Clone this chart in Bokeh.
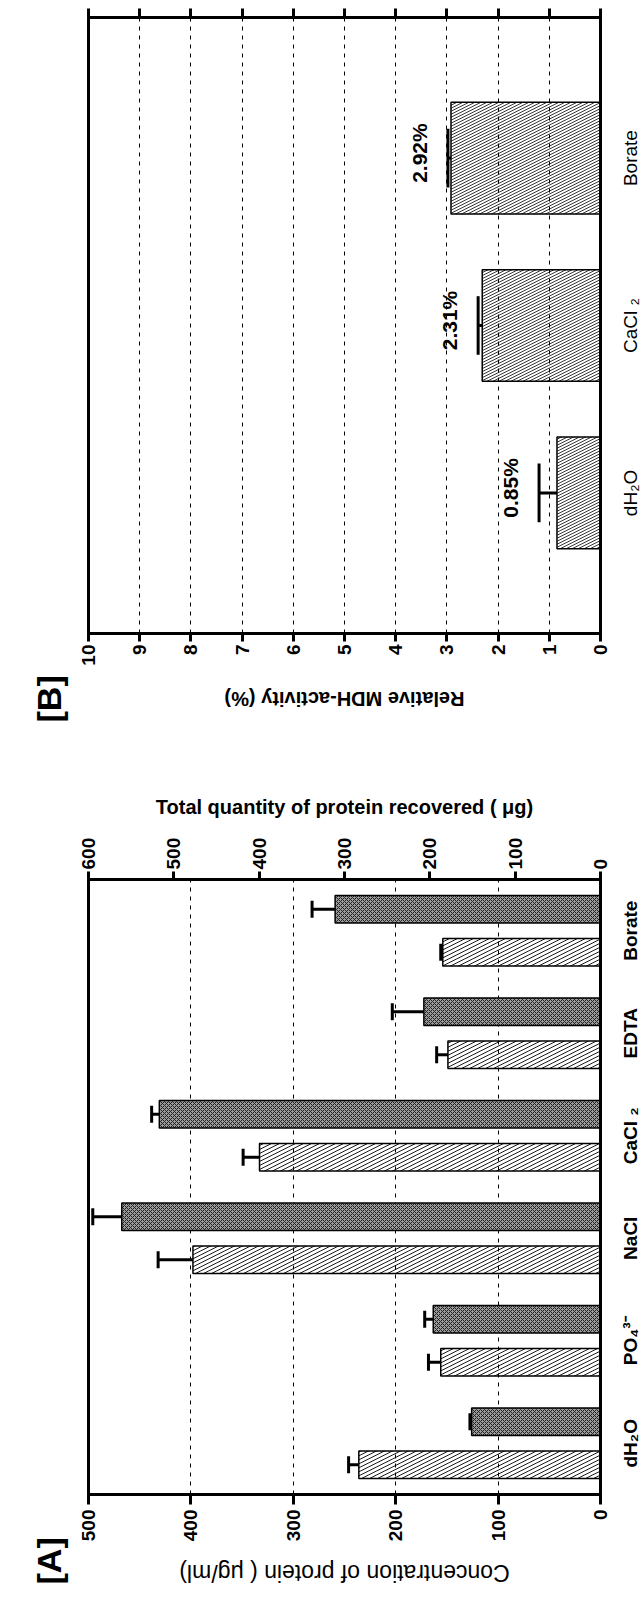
from bokeh.plotting import figure
from bokeh.models import (Range1d, FactorRange, LinearAxis, ColumnDataSource, Title,
                          SingleIntervalTicker, CustomJS)
from bokeh.transform import dodge
from bokeh.layouts import row
from bokeh.io import curdoc
from bokeh.embed import file_html
from bokeh.resources import INLINE
from bokeh.core.properties import value

# ---------------- data ----------------
# Panel [A]
buffers_a = ["dH₂O", "PO₄³⁻", "NaCl", "CaCl ₂", "EDTA", "Borate"]
conc = [236, 156, 398, 333, 149, 154]          # µg/ml (hatched bars)
conc_err = [10, 12, 34, 16, 11, 2]
total = [151, 196, 561, 517, 207, 311]         # µg (dark bars)
total_err = [2, 10, 34, 9, 37, 27]

# Panel [B]
buffers_b = ["dH₂O", "CaCl ₂", "Borate"]
mdh = [0.85, 2.31, 2.92]                       # %
mdh_err = [0.35, 0.08, 0.06]
mdh_labels = ["0.85%", "2.31%", "2.92%"]

FONT = "Liberation Sans"
BLACK = "#000000"
DARK_FILL = "#9c9c9c"

# The published figure is printed a quarter turn counter-clockwise:
# the chart is built upright and the finished layout is turned with CSS.
W_A, W_B = 850, 732
TOTAL_W = W_A + W_B
TOTAL_H = 635
PAGE_MARGIN = 8


def style_common(p):
    p.outline_line_color = BLACK
    p.outline_line_width = 3
    p.background_fill_color = "white"
    p.border_fill_color = "white"
    p.xgrid.grid_line_color = None
    p.ygrid.grid_line_color = BLACK
    p.ygrid.grid_line_width = 1
    p.ygrid.grid_line_dash = "4 5"


def style_value_axis(ax, tick_out, standoff):
    ax.axis_line_width = 3
    ax.axis_line_color = BLACK
    ax.major_tick_line_width = 3
    ax.major_tick_line_color = BLACK
    ax.major_tick_in = 0
    ax.major_tick_out = tick_out
    ax.minor_tick_line_color = None
    ax.major_label_standoff = standoff
    ax.major_label_text_font = FONT
    ax.major_label_text_font_style = "bold"
    ax.major_label_text_font_size = "19px"
    ax.major_label_text_color = BLACK


def style_cat_axis(ax, weight):
    ax.axis_line_width = 3
    ax.axis_line_color = BLACK
    ax.major_tick_line_color = None
    ax.major_tick_out = 0
    ax.major_tick_in = 0
    ax.major_label_standoff = 19
    ax.major_label_text_font = FONT
    ax.major_label_text_font_style = weight
    ax.major_label_text_font_size = "19px"
    ax.major_label_text_color = BLACK


def style_axis_title(ax, text, size, weight, standoff):
    ax.axis_label = text
    ax.axis_label_text_font = FONT
    ax.axis_label_text_font_style = weight
    ax.axis_label_text_font_size = size
    ax.axis_label_text_color = BLACK
    ax.axis_label_standoff = standoff


def panel_title(text, offset):
    return Title(text=text, align="left", vertical_align="top", offset=offset, standoff=38,
                 text_font=FONT, text_font_style="bold", text_font_size="34px",
                 text_color=BLACK)


# ================= Panel A (left part of the upright chart) =================
pA = figure(width=W_A, height=TOTAL_H, output_backend="svg", toolbar_location=None,
            x_range=FactorRange(*buffers_a), y_range=Range1d(0, 500),
            min_border_left=92, min_border_right=140, min_border_top=80, min_border_bottom=43)
style_common(pA)
pA.extra_y_ranges = {"total": Range1d(0, 600)}

srcA = ColumnDataSource(dict(
    cat=buffers_a, conc=conc, conc_hi=[v + e for v, e in zip(conc, conc_err)],
    total=total, total_hi=[v + e for v, e in zip(total, total_err)]))

OFF = 0.21
CAP = 0.083
xr = pA.x_range
pA.vbar(x=dodge("cat", -OFF, range=xr), bottom=0, top="conc", width=0.27,
        source=srcA, fill_color=None, line_color=BLACK, line_width=1.5,
        hatch_pattern="\\", hatch_scale=8, hatch_weight=0.9, hatch_color=BLACK)
pA.segment(x0=dodge("cat", -OFF, range=xr), x1=dodge("cat", -OFF, range=xr),
           y0="conc", y1="conc_hi", source=srcA, line_color=BLACK, line_width=3)
pA.segment(x0=dodge("cat", -OFF - CAP, range=xr), x1=dodge("cat", -OFF + CAP, range=xr),
           y0="conc_hi", y1="conc_hi", source=srcA, line_color=BLACK, line_width=3)
pA.vbar(x=dodge("cat", OFF, range=xr), bottom=0, top="total", width=0.27,
        source=srcA, y_range_name="total",
        fill_color=DARK_FILL, line_color=BLACK, line_width=1.5,
        hatch_pattern="x", hatch_scale=4, hatch_weight=1, hatch_color="#202020")
pA.segment(x0=dodge("cat", OFF, range=xr), x1=dodge("cat", OFF, range=xr),
           y0="total", y1="total_hi", source=srcA, y_range_name="total",
           line_color=BLACK, line_width=3)
pA.segment(x0=dodge("cat", OFF - CAP, range=xr), x1=dodge("cat", OFF + CAP, range=xr),
           y0="total_hi", y1="total_hi", source=srcA, y_range_name="total",
           line_color=BLACK, line_width=3)

axA = pA.yaxis[0]
axA.ticker = SingleIntervalTicker(interval=100)
style_value_axis(axA, 10, 5)
style_axis_title(axA, "Concentration of protein ( μg/ml)", "23px", "normal", 16)

rightA = LinearAxis(y_range_name="total", ticker=SingleIntervalTicker(interval=100))
style_value_axis(rightA, 8, 2)
style_axis_title(rightA, "Total quantity of protein recovered ( μg)", "20px", "bold", 17)
pA.add_layout(rightA, "right")

style_cat_axis(pA.xaxis[0], "bold")
pA.add_layout(panel_title("[A]", -90), "above")

# ================= Panel B (right part of the upright chart) =================
pB = figure(width=W_B, height=TOTAL_H, output_backend="svg", toolbar_location=None,
            x_range=FactorRange(*buffers_b, range_padding=0.34, range_padding_units="absolute"),
            y_range=Range1d(0, 10),
            min_border_left=106, min_border_right=10, min_border_top=80, min_border_bottom=43)
style_common(pB)

srcB = ColumnDataSource(dict(
    cat=buffers_b, v=mdh,
    hi=[v + e for v, e in zip(mdh, mdh_err)],
    lab_y=[v + e + 0.55 for v, e in zip(mdh, mdh_err)],
    lab=mdh_labels))
xb = pB.x_range
pB.vbar(x="cat", bottom=0, top="v", width=0.667, source=srcB,
        fill_color=None, line_color=BLACK, line_width=1.5,
        hatch_pattern="\\", hatch_scale=6, hatch_weight=0.8, hatch_color=BLACK)
pB.segment(x0="cat", x1="cat", y0="v", y1="hi", source=srcB, line_color=BLACK, line_width=3)
pB.segment(x0=dodge("cat", -0.175, range=xb), x1=dodge("cat", 0.175, range=xb),
           y0="hi", y1="hi", source=srcB, line_color=BLACK, line_width=3)
pB.text(x=dodge("cat", 0.03, range=xb), y="lab_y", text="lab", source=srcB,
        text_align="center", text_baseline="middle",
        text_font=value(FONT), text_font_style="bold", text_font_size="21px", text_color=BLACK)

axB = pB.yaxis[0]
axB.ticker = SingleIntervalTicker(interval=1)
style_value_axis(axB, 8, 3)
style_axis_title(axB, "Relative MDH-activity (%)", "20px", "bold", 19)

rightB = LinearAxis(ticker=SingleIntervalTicker(interval=1))
style_value_axis(rightB, 9, 0)
rightB.major_label_text_font_size = "1px"
rightB.major_label_text_color = None
pB.add_layout(rightB, "right")

style_cat_axis(pB.xaxis[0], "normal")
pB.add_layout(panel_title("[B]", -89), "above")

layout = row(pA, pB)

# turn the finished (already laid out) chart a quarter turn counter-clockwise
turn = CustomJS(code="""
    const host = document.querySelector("[data-root-id]");
    let el = host ? host.firstElementChild : null;
    if (el == null) { el = document.body; }
    el.style.transformOrigin = "0 0";
    el.style.transform = "translate(%dpx, %dpx) rotate(-90deg)";
""" % (PAGE_MARGIN, TOTAL_W + PAGE_MARGIN))
doc = curdoc()
doc.add_root(layout)
doc.js_on_event("document_ready", turn)

open("out.html", "w").write(file_html(layout, INLINE))
